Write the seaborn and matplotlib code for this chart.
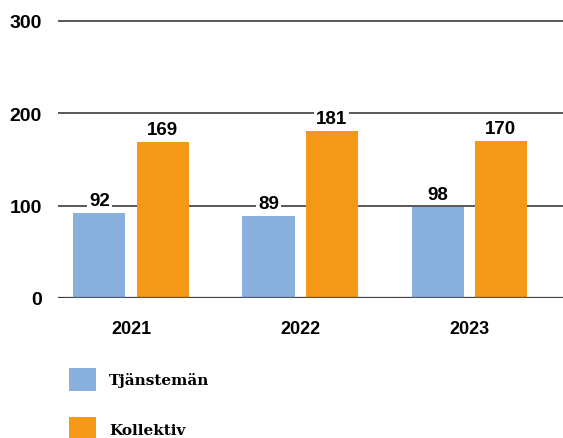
import matplotlib
matplotlib.use("Agg")
import matplotlib.pyplot as plt
from matplotlib.patches import Patch
import seaborn as sns
import pandas as pd

years = ["2021", "2022", "2023"]
series_names = ["Tjänstemän", "Kollektiv"]
tjanstemán = [92, 89, 98]
kollektiv = [169, 181, 170]
y_ticks = [0, 100, 200, 300]

colors = ["#8AB0DE", "#F39817"]

df = pd.DataFrame({
    "year": years * 2,
    "group": [series_names[0]] * 3 + [series_names[1]] * 3,
    "value": tjanstemán + kollektiv,
})

sns.set_style("white")
plt.rcParams["font.family"] = ["Liberation Sans", "DejaVu Sans"]
plt.rcParams["text.color"] = "black"
plt.rcParams["xtick.color"] = "black"
plt.rcParams["ytick.color"] = "black"

W, H = 563, 439
fig = plt.figure(figsize=(W / 100, H / 100), dpi=100)
ax = fig.add_axes([58 / W, 1 - 299 / H, 1 - 58 / W, 286.4 / H])

sns.barplot(data=df, x="year", y="value", hue="group", palette=colors,
            width=0.746, gap=0.175, saturation=1, legend=False, ax=ax,
            zorder=2, edgecolor="none", linewidth=0)

ax.set_xlim(-0.432, 2.556)
ax.set_ylim(0, 310)
ax.set_yticks(y_ticks)
ax.set_yticklabels([str(v) for v in y_ticks])
ax.set_xlabel("")
ax.set_ylabel("")
for s in ax.spines.values():
    s.set_visible(False)

ax.set_axisbelow(True)
ax.grid(axis="y", color="#4a4a4a", linewidth=1.3)
ax.grid(axis="x", visible=False)
ax.axhline(0, color="#2a2a2a", alpha=0.6, linewidth=2.4, zorder=4)

ax.tick_params(axis="y", length=0, pad=11.5, labelsize=14)
ax.tick_params(axis="x", length=0, pad=16, labelsize=13)
for lab in ax.get_yticklabels() + ax.get_xticklabels():
    lab.set_fontweight("bold")
    lab.set_color("black")

for cont in ax.containers:
    ax.bar_label(cont, padding=3, fontsize=13.5, fontweight="bold",
                 color="black",
                 bbox=dict(facecolor="white", edgecolor="none", pad=1.5),
                 zorder=5)

handles = [Patch(facecolor=c, edgecolor="none") for c in colors]
fs = 11
fig.legend(handles, series_names, loc="upper left",
           bbox_to_anchor=(69 / W, 1 - 369 / H), frameon=False,
           borderpad=0, borderaxespad=0, handlelength=1.76,
           handleheight=1.93, handletextpad=0.85, labelspacing=1.72,
           prop=dict(family="DejaVu Serif", weight="bold", size=fs))

fig.savefig("out.png", dpi=100)
